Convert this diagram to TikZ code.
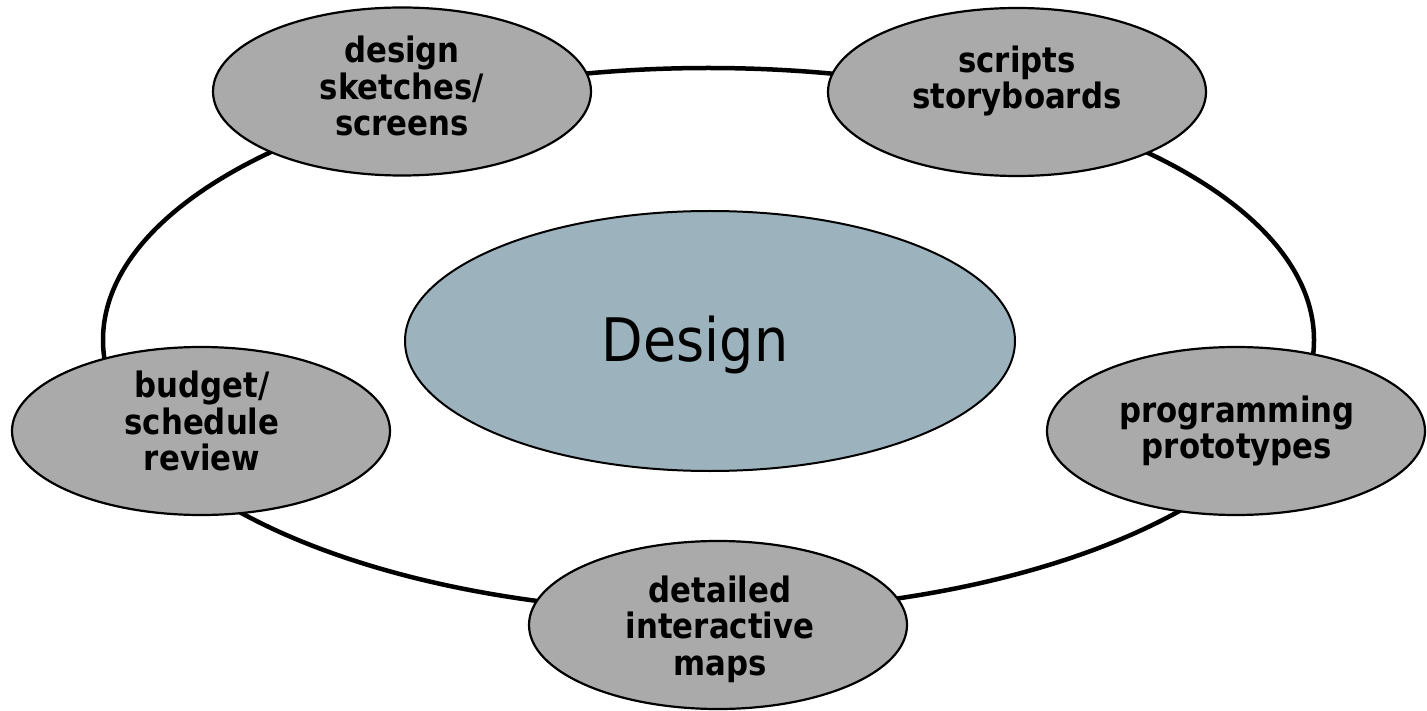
\documentclass[tikz,border=0pt]{standalone}
\usepackage{fontspec}
\setmainfont{DejaVu Sans}
\newfontfamily\labelfont[FakeStretch=0.88]{DejaVu Sans}
\newfontfamily\titlefont[FakeStretch=0.9]{DejaVu Sans}
\usetikzlibrary{shapes.geometric}
\definecolor{stagegray}{RGB}{170,170,170}
\definecolor{coreblue}{RGB}{156,178,189}
\begin{document}
\begin{tikzpicture}[x=1pt,y=-1pt,
  stage/.style={ellipse, draw=black, line width=2.2pt, fill=stagegray,
    inner sep=0pt, minimum width=378pt, minimum height=168pt},
  stagetext/.style={font=\labelfont\bfseries\fontsize{35}{36.5}\selectfont,
    align=center, text=black, inner sep=0pt},
  core/.style={ellipse, draw=black, line width=2pt, fill=coreblue,
    inner sep=0pt, minimum width=610pt, minimum height=260pt},
  coretext/.style={font=\titlefont\fontsize{60}{68}\selectfont, text=black, inner sep=0pt},
  cycle ring/.style={line width=4.5pt}
]
\useasboundingbox (0,0) rectangle (1427,711);

% the cycle that links the design activities
\coordinate (ringc) at (708.5,340);
\draw[cycle ring] (ringc) ellipse [x radius=605.5, y radius=272];

% central phase
\node[core] (core) at (710,341) {};
\node[coretext] (coretxt) at (695,345) {Design};

% activities sitting on the cycle
\node[stage] (sketches) at (402,91.5) {};
\node[stagetext] (sketchestxt) at (402,86) {design\\sketches/\\screens};

\node[stage] (scripts) at (1017,92) {};
\node[stagetext] (scriptstxt) at (1017,81) {scripts\\storyboards};

\node[stage] (budget) at (201,431) {};
\node[stagetext] (budgettxt) at (202,421) {budget/\\schedule\\review};

\node[stage] (proto) at (1236,431) {};
\node[stagetext] (prototxt) at (1237,431) {programming\\prototypes};

\node[stage] (maps) at (718,625) {};
\node[stagetext] (mapstxt) at (720,629) {detailed\\interactive\\maps};
\end{tikzpicture}
\end{document}
